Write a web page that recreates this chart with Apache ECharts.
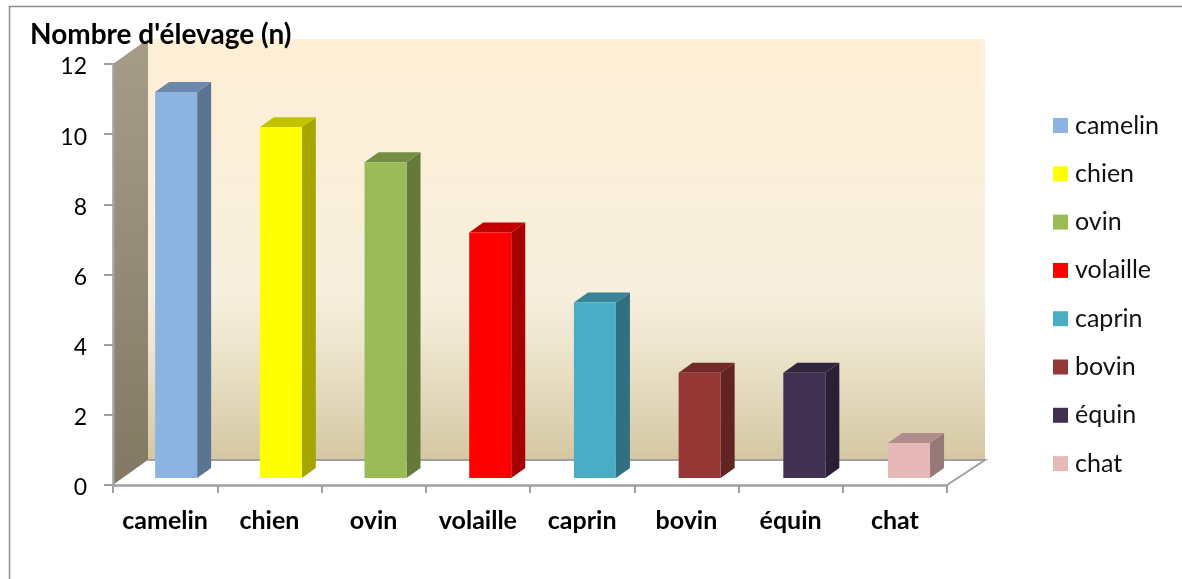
<!DOCTYPE html>
<html>
<head>
<meta charset="utf-8">
<title>Nombre d'élevage</title>
<style>
  html, body { margin: 0; padding: 0; background: #fff; }
  #chart { width: 1182px; height: 579px; }
</style>
<script src="https://cdn.jsdelivr.net/npm/echarts@6/dist/echarts.min.js"></script>
</head>
<body>
<div id="chart"></div>
<script>
const categories = ['camelin', 'chien', 'ovin', 'volaille', 'caprin', 'bovin', 'équin', 'chat']
const values = [11, 10, 9, 7, 5, 3, 3, 1]
const barColors = ['#8DB3E2', '#FFFF00', '#9BBB59', '#FF0000', '#4BACC6', '#953735', '#403152', '#E6B9B8']
const yMax = 12

const FONT = 'Lato, "Open Sans", sans-serif'
const GREY = '#a0a0a0'
// depth of the 3d box, in pixels
const WALL_DX = 35
const WALL_DY = -25
const RIGHT_DX = 38

function shade(hex, k) {
  const [r, g, b] = echarts.color.parse(hex)
  return `rgb(${Math.round(r * k)},${Math.round(g * k)},${Math.round(b * k)})`
}

function renderWalls(params, api) {
  const cs = params.coordSys
  const x0 = cs.x
  const x1 = cs.x + cs.width
  const y0 = api.coord([0, 0])[1]
  const y1 = api.coord([0, api.value(1)])[1]
  const bx = x0 + WALL_DX
  const by = y0 + WALL_DY
  const topY = y1 + WALL_DY
  return {
    type: 'group',
    children: [
      {
        type: 'rect',
        shape: { x: bx, y: topY, width: x1 + RIGHT_DX - bx, height: by - topY },
        style: {
          fill: new echarts.graphic.LinearGradient(0, 0, 0, 1, [
            { offset: 0, color: '#FEEFD5' },
            { offset: 0.6, color: '#F6EFDD' },
            { offset: 0.72, color: '#EEE6CF' },
            { offset: 1, color: '#D4C7A3' }
          ])
        }
      },
      {
        type: 'polygon',
        shape: { points: [[x0, y0], [bx, by], [bx, topY], [x0, y1]] },
        style: {
          fill: new echarts.graphic.LinearGradient(0, 0, 0, 1, [
            { offset: 0, color: '#A69D89' },
            { offset: 1, color: '#837962' }
          ])
        }
      },
      {
        type: 'polygon',
        shape: { points: [[x0, y0], [x1, y0], [x1 + RIGHT_DX, by], [bx, by]] },
        style: { fill: '#fff' }
      },
      {
        type: 'polyline',
        shape: { points: [[bx, by], [x1 + RIGHT_DX, by], [x1, y0]] },
        style: { fill: 'none', stroke: GREY, lineWidth: 2 }
      }
    ]
  }
}

function renderBar(params, api) {
  const idx = api.value(0)
  const base = api.coord([idx, 0])
  const top = api.coord([idx, api.value(1)])
  const color = api.visual('color')
  const w = api.size([1, 0])[0] * 0.403
  // bars stand a little behind the front edge of the floor
  const x = base[0] - 10 + idx * 0.45
  const dy = -7
  const y0 = base[1] + dy
  const y1 = top[1] + dy
  const dx2 = 14
  const dy2 = -10
  return {
    type: 'group',
    children: [
      {
        type: 'polygon',
        shape: { points: [[x + w, y0], [x + w + dx2, y0 + dy2], [x + w + dx2, y1 + dy2], [x + w, y1]] },
        style: { fill: shade(color, 0.65) }
      },
      {
        type: 'polygon',
        shape: { points: [[x, y1], [x + w, y1], [x + w + dx2, y1 + dy2], [x + dx2, y1 + dy2]] },
        style: { fill: shade(color, 0.76) }
      },
      {
        type: 'rect',
        shape: { x: x, y: y1, width: w, height: y0 - y1 },
        style: { fill: color }
      }
    ]
  }
}

const chart = echarts.init(document.getElementById('chart'))

chart.setOption({
  animation: false,
  backgroundColor: '#fff',
  textStyle: { fontFamily: FONT },
  title: {
    text: "Nombre d'élevage (n)",
    left: 25,
    top: 16,
    textStyle: { fontFamily: FONT, fontSize: 28, fontWeight: 'bold', color: '#000' },
    z: 10
  },
  grid: { left: 113, right: 235, top: 64, bottom: 94 },
  legend: {
    data: categories,
    orient: 'vertical',
    left: 1048,
    top: 108,
    icon: 'rect',
    itemWidth: 15,
    itemHeight: 15,
    itemGap: 23.3,
    selectedMode: false,
    textStyle: { fontFamily: FONT, fontSize: 25, color: '#111', padding: [0, 0, 0, 2] }
  },
  xAxis: {
    type: 'category',
    data: categories,
    z: 5,
    axisLine: { lineStyle: { color: GREY, width: 2.5 } },
    axisTick: { show: true, interval: 0, length: 8, lineStyle: { color: GREY, width: 2 } },
    axisLabel: { interval: 0, fontFamily: FONT, fontSize: 25, fontWeight: 'bold', color: '#000', margin: 23 }
  },
  yAxis: {
    type: 'value',
    min: 0,
    max: yMax,
    interval: 2,
    z: 5,
    splitLine: { show: false },
    axisLine: { show: true, lineStyle: { color: GREY, width: 2.5 } },
    axisTick: { show: true, length: 9, lineStyle: { color: GREY, width: 2 } },
    axisLabel: {
      margin: 26,
      formatter: '{n|{value}}',
      rich: { n: { fontFamily: FONT, fontSize: 23, color: '#000', padding: [6, 0, 0, 0] } }
    }
  },
  series: [
    {
      name: 'parois',
      type: 'custom',
      z: 1,
      silent: true,
      clip: false,
      renderItem: renderWalls,
      data: [[0, yMax]]
    },
    ...categories.map((name, i) => ({
      name,
      type: 'custom',
      z: 2,
      clip: false,
      itemStyle: { color: barColors[i] },
      renderItem: renderBar,
      encode: { x: 0, y: 1 },
      data: [[i, values[i]]]
    }))
  ],
  graphic: [
    {
      type: 'polyline',
      shape: { points: [[9.5, 579], [9.5, 6.5], [1182, 6.5]] },
      style: { fill: 'none', stroke: '#8c8c8c', lineWidth: 1.5 }
    }
  ]
})
</script>
</body>
</html>
